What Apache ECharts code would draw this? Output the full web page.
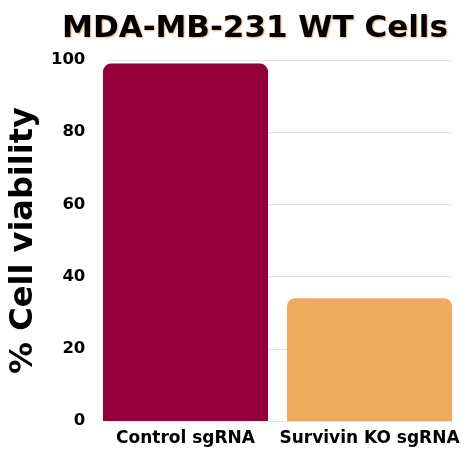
<!DOCTYPE html>
<html>
<head>
<meta charset="utf-8">
<script src="https://cdn.jsdelivr.net/npm/echarts@6/dist/echarts.min.js"></script>
<style>
  html, body { margin: 0; padding: 0; background: #fff; }
  #viabilityChart { width: 469px; height: 453px; }
</style>
</head>
<body>
<div id="viabilityChart"></div>
<script>
// datos del grafico
var categorias = ["Control sgRNA", "Survivin KO sgRNA"];
var viabilidad = [99, 34];
var colores = ["#93003a", "#eeaa5f"];
var ticksY = [0, 20, 40, 60, 80, 100];

document.addEventListener("DOMContentLoaded", () => {
  var chart = echarts.init(document.querySelector("#viabilityChart"));
  var fuente = "DejaVu Sans";

  chart.setOption({
    animation: false,
    title: {
      text: "MDA-MB-231 WT Cells",
      left: 250,
      top: 8,
      textAlign: "center",
      textStyle: {
        fontFamily: fuente,
        fontSize: 31,
        fontWeight: "bold",
        color: "#000",
        textShadowColor: "rgba(190,110,20,0.5)",
        textShadowBlur: 2,
        textShadowOffsetX: 1,
        textShadowOffsetY: 1,
      },
    },
    // grid 0: lineas y etiquetas del eje Y, grid 1: barras
    grid: [
      { left: 103, width: 349, top: 60, height: 361 },
      { left: 93.5, width: 368, top: 60, height: 361 },
    ],
    xAxis: [
      {
        gridIndex: 0,
        type: "category",
        data: categorias,
        show: false,
      },
      {
        gridIndex: 1,
        type: "category",
        data: categorias,
        axisLine: { show: false },
        axisTick: { show: false },
        axisLabel: {
          interval: 0,
          margin: 9,
          fontFamily: fuente,
          fontSize: 17,
          fontWeight: "bold",
          color: "#000",
        },
      },
    ],
    yAxis: [
      {
        gridIndex: 0,
        type: "value",
        min: ticksY[0],
        max: ticksY[ticksY.length - 1],
        interval: ticksY[1] - ticksY[0],
        name: "% Cell viability",
        nameLocation: "middle",
        nameGap: 67,
        nameTextStyle: {
          fontFamily: fuente,
          fontSize: 32,
          fontWeight: "bold",
          color: "#000",
        },
        axisLine: { show: false },
        axisTick: { show: false },
        axisLabel: {
          margin: 22,
          fontFamily: fuente,
          fontSize: 16.5,
          fontWeight: "bold",
          color: "#000",
        },
        splitLine: { lineStyle: { color: "#e2e2e2", width: 1 } },
      },
      {
        gridIndex: 1,
        type: "value",
        min: ticksY[0],
        max: ticksY[ticksY.length - 1],
        show: false,
        splitLine: { show: false },
      },
    ],
    series: [
      {
        name: "% Cell viability",
        type: "bar",
        xAxisIndex: 1,
        yAxisIndex: 1,
        barWidth: 165,
        data: viabilidad.map((v, i) => ({
          value: v,
          itemStyle: { color: colores[i], borderRadius: [8, 8, 0, 0] },
        })),
      },
    ],
  });
});
</script>
</body>
</html>
